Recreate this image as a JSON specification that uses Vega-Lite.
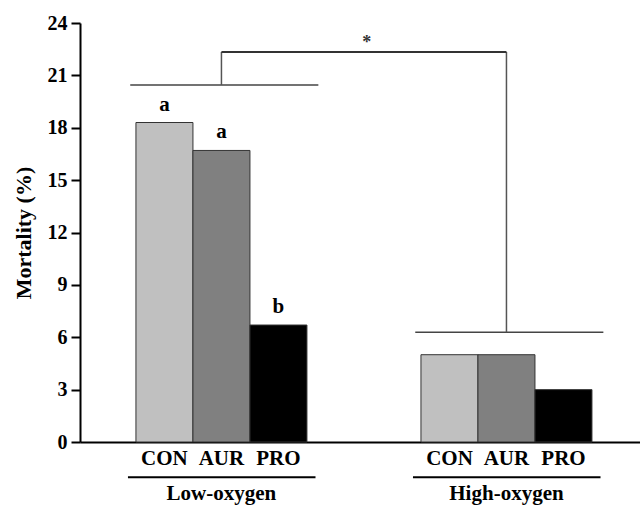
{
  "$schema": "https://vega.github.io/schema/vega-lite/v6.json",
  "width": 560,
  "height": 419,
  "autosize": "none",
  "padding": {"left": 80, "top": 23, "right": 0, "bottom": 63},
  "background": "white",
  "config": {"view": {"stroke": null}, "font": "Liberation Serif"},
  "datasets": {
    "bars": [
      {"cat": "L_CON", "group": "Low-oxygen", "treatment": "CON", "mortality": 18.3, "letter": "a"},
      {"cat": "L_AUR", "group": "Low-oxygen", "treatment": "AUR", "mortality": 16.7, "letter": "a"},
      {"cat": "L_PRO", "group": "Low-oxygen", "treatment": "PRO", "mortality": 6.7, "letter": "b"},
      {"cat": "H_CON", "group": "High-oxygen", "treatment": "CON", "mortality": 5.0, "letter": ""},
      {"cat": "H_AUR", "group": "High-oxygen", "treatment": "AUR", "mortality": 5.0, "letter": ""},
      {"cat": "H_PRO", "group": "High-oxygen", "treatment": "PRO", "mortality": 3.0, "letter": ""}
    ],
    "groupBrackets": [
      {"group": "Low-oxygen", "from": "L_CON", "to": "L_PRO", "level": 20.45},
      {"group": "High-oxygen", "from": "H_CON", "to": "H_PRO", "level": 6.28}
    ],
    "stems": [
      {"at": "L_AUR", "low": 20.45, "high": 22.34},
      {"at": "H_AUR", "low": 6.28, "high": 22.34}
    ],
    "topBracket": [
      {"from": "L_AUR", "to": "H_AUR", "level": 22.34, "mid": "g2", "sig": "*"}
    ],
    "groups": [
      {"group": "Low-oxygen", "from": "L_CON", "to": "L_PRO", "center": "L_AUR"},
      {"group": "High-oxygen", "from": "H_CON", "to": "H_PRO", "center": "H_AUR"}
    ]
  },
  "layer": [
    {
      "data": {"name": "bars"},
      "mark": {"type": "bar", "stroke": "#333333", "strokeWidth": 1},
      "encoding": {
        "x": {
          "field": "cat",
          "type": "nominal",
          "sort": null,
          "scale": {
            "domain": ["L_CON", "L_AUR", "L_PRO", "g1", "g2", "H_CON", "H_AUR", "H_PRO"],
            "paddingInner": 0,
            "paddingOuter": 0.912,
            "align": 0.538
          },
          "axis": {
            "title": null,
            "labelExpr": "indexof(datum.label, '_') > 0 ? split(datum.label, '_')[1] : ''",
            "ticks": false,
            "tickSize": 0,
            "domainColor": "black",
            "domainWidth": 2,
            "labelFont": "Liberation Serif",
            "labelFontWeight": "bold",
            "labelFontSize": 21,
            "labelColor": "black",
            "labelPadding": 5,
            "labelAngle": 0
          }
        },
        "y": {
          "field": "mortality",
          "type": "quantitative",
          "scale": {"domain": [0, 24], "nice": false},
          "axis": {
            "title": "Mortality (%)",
            "values": [0, 1.5, 3, 4.5, 6, 7.5, 9, 10.5, 12, 13.5, 15, 16.5, 18, 19.5, 21, 22.5, 24],
            "labelExpr": "datum.value % 3 === 0 ? datum.label : ''",
            "tickSize": {"condition": {"test": "datum.value % 3 === 0", "value": 9}, "value": 5},
            "tickWidth": 2,
            "tickColor": "black",
            "domainColor": "black",
            "domainWidth": 2,
            "grid": false,
            "labelFont": "Liberation Serif",
            "labelFontWeight": "bold",
            "labelFontSize": 20,
            "labelColor": "black",
            "labelPadding": 4,
            "labelOverlap": false,
            "labelFlush": false,
            "titleFont": "Liberation Serif",
            "titleFontWeight": "bold",
            "titleFontSize": 22,
            "titleColor": "black",
            "titlePadding": 12
          }
        },
        "color": {
          "field": "treatment",
          "type": "nominal",
          "scale": {"domain": ["CON", "AUR", "PRO"], "range": ["#c0c0c0", "#808080", "#000000"]},
          "legend": null
        }
      }
    },
    {
      "data": {"name": "bars"},
      "transform": [{"filter": "datum.letter != ''"}],
      "mark": {"type": "text", "baseline": "alphabetic", "dy": -12, "fontWeight": "bold", "fontSize": 21, "font": "Liberation Serif", "color": "black"},
      "encoding": {
        "x": {"field": "cat", "type": "nominal"},
        "y": {"field": "mortality", "type": "quantitative"},
        "text": {"field": "letter"}
      }
    },
    {
      "data": {"name": "groupBrackets"},
      "mark": {"type": "rule", "color": "#444444", "strokeWidth": 1.5},
      "encoding": {
        "x": {"field": "from", "type": "nominal", "bandPosition": -0.1},
        "x2": {"field": "to", "bandPosition": 1.2},
        "y": {"field": "level", "type": "quantitative"}
      }
    },
    {
      "data": {"name": "stems"},
      "mark": {"type": "rule", "color": "#555555", "strokeWidth": 1.5},
      "encoding": {
        "x": {"field": "at", "type": "nominal"},
        "y": {"field": "low", "type": "quantitative"},
        "y2": {"field": "high"}
      }
    },
    {
      "data": {"name": "topBracket"},
      "mark": {"type": "rule", "color": "#333333", "strokeWidth": 2},
      "encoding": {
        "x": {"field": "from", "type": "nominal"},
        "x2": {"field": "to"},
        "y": {"field": "level", "type": "quantitative"}
      }
    },
    {
      "data": {"name": "topBracket"},
      "mark": {"type": "text", "baseline": "alphabetic", "dy": -4, "fontWeight": "bold", "fontSize": 18, "font": "Liberation Serif", "color": "#333333"},
      "encoding": {
        "x": {"field": "mid", "type": "nominal", "bandPosition": 0.05},
        "y": {"field": "level", "type": "quantitative"},
        "text": {"field": "sig"}
      }
    },
    {
      "data": {"name": "groups"},
      "mark": {"type": "rule", "color": "black", "strokeWidth": 2},
      "encoding": {
        "x": {"field": "from", "type": "nominal", "bandPosition": -0.14},
        "x2": {"field": "to", "bandPosition": 1.15},
        "y": {"datum": -2.02, "type": "quantitative"}
      }
    },
    {
      "data": {"name": "groups"},
      "mark": {"type": "text", "baseline": "alphabetic", "fontWeight": "bold", "fontSize": 21, "font": "Liberation Serif", "color": "black"},
      "encoding": {
        "x": {"field": "center", "type": "nominal"},
        "y": {"datum": -3.3, "type": "quantitative"},
        "text": {"field": "group"}
      }
    }
  ]
}
